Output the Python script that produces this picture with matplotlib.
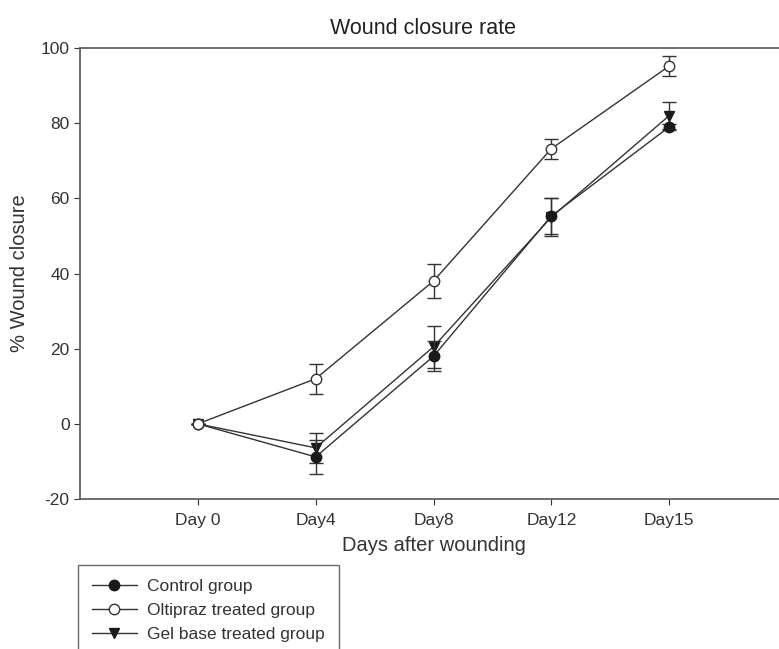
import numpy as np
import matplotlib
matplotlib.use('Agg')
import matplotlib.pyplot as plt
from matplotlib.lines import Line2D

plt.rcParams['font.family'] = ['Liberation Sans', 'DejaVu Sans']
plt.rcParams['axes.unicode_minus'] = False

# Data
days = ['Day 0', 'Day4', 'Day8', 'Day12', 'Day15']
control = [0, -8.8, 18, 55.3, 79]
control_err = [0, 4.5, 4, 4.8, 0.8]
oltipraz = [0, 12, 38, 73.2, 95.2]
oltipraz_err = [0, 4, 4.5, 2.7, 2.7]
gel = [0, -6.4, 20.5, 55, 82]
gel_err = [0, 4, 5.6, 5, 3.5]

W, H = 779, 649
fig = plt.figure(figsize=(W / 100, H / 100), dpi=100)

# axes extends past the right edge of the picture, like the original crop
left, right, top, bottom = 80, 787, 48, 499
ax = fig.add_axes([left / W, 1 - bottom / H, (right - left) / W, (bottom - top) / H])

x = np.arange(len(days))
line_col = '#333333'
dark = '#1a1a1a'
common = dict(color=line_col, lw=1.0, capsize=5, elinewidth=1.0, capthick=1.0, ms=7.5)

ax.errorbar(x, control, yerr=control_err, marker='o', mfc=dark, mec=dark, zorder=3, **common)
ax.errorbar(x, oltipraz, yerr=oltipraz_err, marker='o', mfc='white', mec=line_col, zorder=3, **common)
ax.errorbar(x, gel, yerr=gel_err, marker='v', mfc=dark, mec=dark, zorder=2, **common)

ax.set_xlim(-1, 5)
ax.set_ylim(-20, 100)
ax.set_yticks(range(-20, 101, 20))
ax.set_xticks(x)
ax.set_xticklabels(days)
ax.tick_params(axis='both', labelsize=12.5, colors='#333333', direction='out', length=4)
ax.tick_params(axis='x', pad=6)

for s in ['left', 'bottom', 'top']:
    ax.spines[s].set_color('#555555')
    ax.spines[s].set_linewidth(1.2)
ax.spines['right'].set_visible(False)

ax.set_ylabel('% Wound closure', fontsize=14.5, color='#333333', labelpad=8)
ax.set_xlabel('Days after wounding', fontsize=14.5, color='#333333', labelpad=6)
fig.text(423 / W, 1 - 28 / H, 'Wound closure rate', fontsize=15.5, color='#222222',
         ha='center', va='center')

handles = [
    Line2D([], [], color=line_col, lw=1.0, marker='o', mfc=dark, mec=dark, ms=7.5),
    Line2D([], [], color=line_col, lw=1.0, marker='o', mfc='white', mec=line_col, ms=7.5),
    Line2D([], [], color=line_col, lw=1.0, marker='v', mfc=dark, mec=dark, ms=7.5),
]
labels = ['Control group', 'Oltipraz treated group', 'Gel base treated group']
leg = fig.legend(handles, labels, loc='upper left', bbox_to_anchor=(78 / W, 1 - 565 / H),
                 frameon=True, fancybox=False, fontsize=12.5, handlelength=2.6,
                 handletextpad=0.6, borderpad=0.8, labelspacing=0.5, borderaxespad=0)
leg.get_frame().set_edgecolor('#444444')
leg.get_frame().set_linewidth(1.0)
for t in leg.get_texts():
    t.set_color('#333333')

fig.savefig('out.png', dpi=100)
